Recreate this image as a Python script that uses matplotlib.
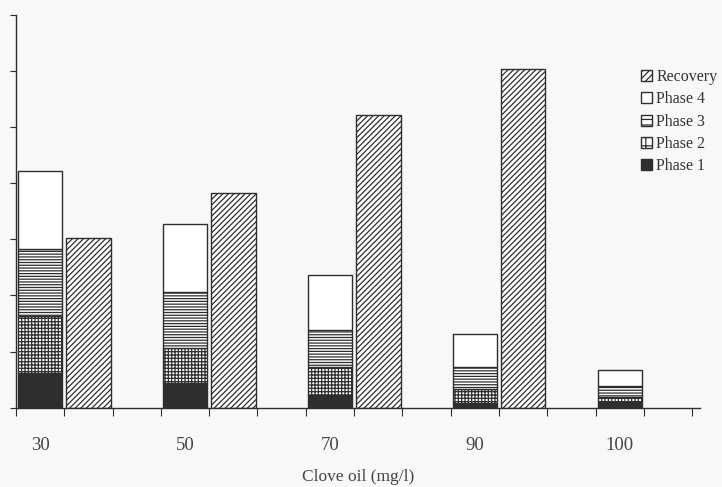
import numpy as np
import matplotlib
matplotlib.use("Agg")
import matplotlib.pyplot as plt
from matplotlib.patches import Patch

plt.rcParams['font.family'] = ['Liberation Serif', 'DejaVu Serif']
plt.rcParams['hatch.linewidth'] = 0.9

# data (one y tick = 10 units)
concentrations = ["30", "50", "70", "90", "100"]
phase1 = [6.2, 4.4, 2.2, 0.8, 1.0]
phase2 = [10.2, 6.2, 5.0, 2.6, 0.9]
phase3 = [11.9, 10.0, 6.6, 3.9, 1.9]
phase4 = [13.9, 12.2, 9.8, 5.9, 2.9]
recovery = [30.3, 38.3, 52.2, 60.3, 0]

ink = "#2e2e2e"
bg = "#f7f8f7"

fig = plt.figure(figsize=(7.22, 4.87), dpi=100, facecolor=bg)
ax = fig.add_axes([0.022, 0.163, 0.947, 0.806], facecolor=bg)

n = len(concentrations)
x_phase = np.arange(n) * 3 + 0.5
x_rec = np.arange(n) * 3 + 1.5
w = 0.92

# stacked phases
phases = [phase1, phase2, phase3, phase4]
styles = [
    dict(color=ink, hatch=None),
    dict(color="white", hatch="+++++"),
    dict(color="white", hatch="------"),
    dict(color="white", hatch=None),
]
bottom = np.zeros(n)
for vals, st in zip(phases, styles):
    vals = np.array(vals)
    ax.bar(x_phase, vals, w, bottom=bottom, facecolor=st["color"],
           edgecolor=ink, hatch=st["hatch"], linewidth=1.0)
    bottom += vals

# recovery bars (none for 100)
rec = np.array(recovery, dtype=float)
mask = rec > 0
ax.bar(x_rec[mask], rec[mask], w, facecolor="white", edgecolor=ink,
       hatch="//////", linewidth=1.0)

ax.set_xlim(0, 14.15)
ax.set_ylim(0, 70)
ax.spines['top'].set_visible(False)
ax.spines['right'].set_visible(False)
for s in ['left', 'bottom']:
    ax.spines[s].set_color(ink)
    ax.spines[s].set_linewidth(1.0)

ax.set_yticks(np.arange(0, 71, 10))
ax.set_yticklabels([])
ax.tick_params(axis='y', direction='out', length=4, color=ink)

ax.set_xticks(np.arange(0, 15))
ax.set_xticklabels([])
ax.tick_params(axis='x', which='major', direction='out', length=6, color=ink)
ax.set_xticks(x_phase, minor=True)
ax.set_xticklabels(concentrations, minor=True, fontsize=13.5, color="#444444")
ax.tick_params(axis='x', which='minor', length=0, pad=21)

ax.set_xlabel("Clove oil (mg/l)", fontsize=12.5, color="#444444", labelpad=11)

handles = [
    Patch(facecolor="white", edgecolor=ink, hatch="/////", label="Recovery"),
    Patch(facecolor="white", edgecolor=ink, label="Phase 4"),
    Patch(facecolor="white", edgecolor=ink, hatch="---", label="Phase 3"),
    Patch(facecolor="white", edgecolor=ink, hatch="++", label="Phase 2"),
    Patch(facecolor=ink, edgecolor=ink, label="Phase 1"),
]
leg = fig.legend(handles=handles, loc="upper left", bbox_to_anchor=(0.868, 0.888),
                 frameon=False, fontsize=11.5, handlelength=0.7, handleheight=0.7,
                 handletextpad=0.25, labelspacing=0.4)
for t in leg.get_texts():
    t.set_color("#333333")

fig.savefig("out.png", dpi=100, facecolor=bg)
